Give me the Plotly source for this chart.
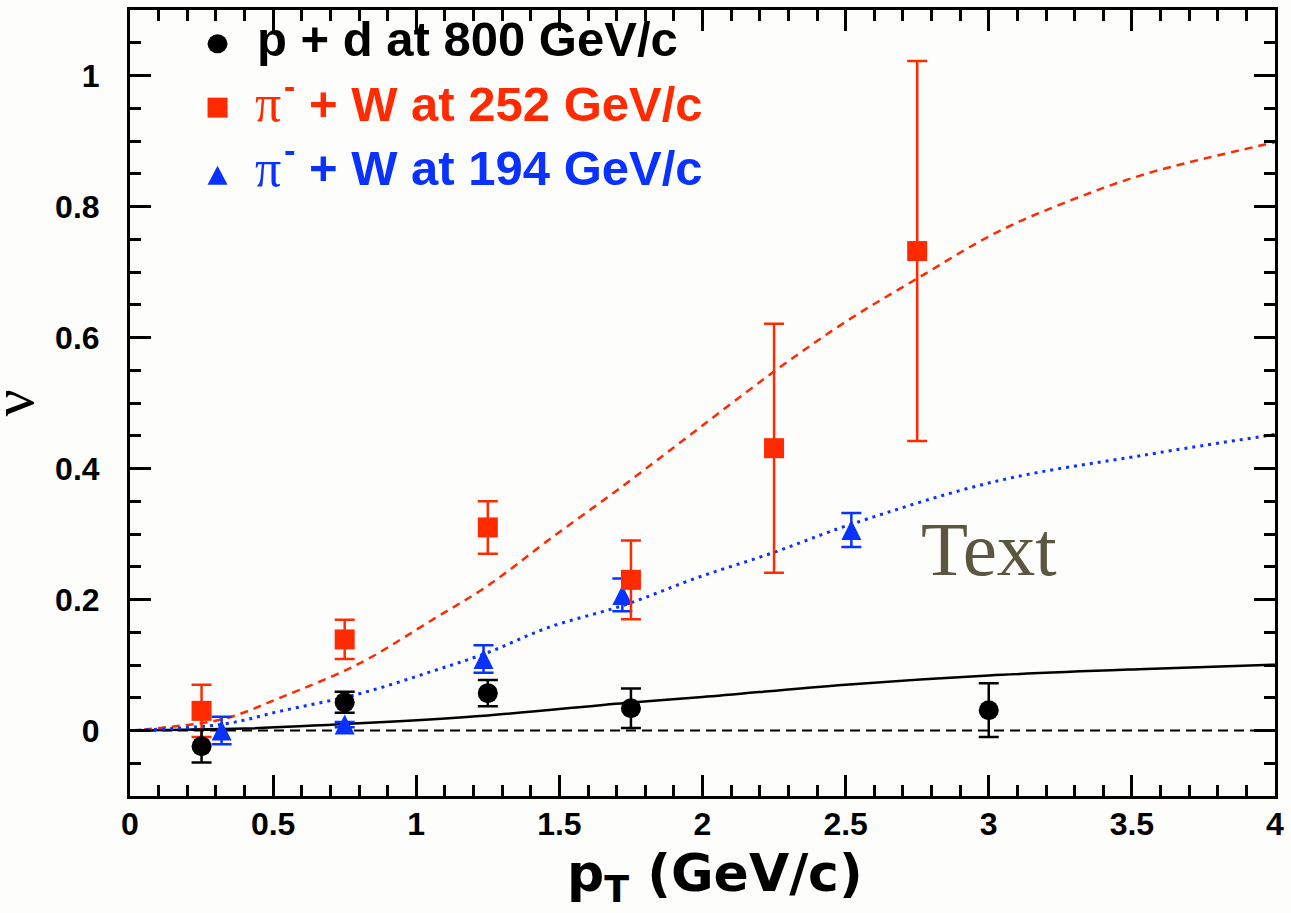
import plotly.graph_objects as go

# ---------------- data ----------------
# p + d at 800 GeV/c
PD_X = [0.25, 0.75, 1.25, 1.75, 3.0]
PD_Y = [-0.024, 0.043, 0.057, 0.034, 0.031]
PD_ERR = [0.025, 0.016, 0.020, 0.030, 0.041]

# pi- + W at 252 GeV/c
PIW252_X = [0.25, 0.75, 1.25, 1.75, 2.25, 2.75]
PIW252_Y = [0.030, 0.139, 0.310, 0.230, 0.431, 0.732]
PIW252_ERR = [0.040, 0.030, 0.040, 0.060, 0.190, 0.290]

# pi- + W at 194 GeV/c
PIW194_X = [0.32, 0.75, 1.235, 1.72, 2.52]
PIW194_Y = [0.000, 0.009, 0.109, 0.207, 0.306]
PIW194_ERR = [0.021, 0.004, 0.021, 0.025, 0.026]

# model curves
CURVE_PD_X = [0.0, 0.4, 0.8, 1.25, 1.73, 2.0, 2.5, 3.0, 3.55, 4.0]
CURVE_PD_Y = [0.0, 0.003, 0.011, 0.023, 0.042, 0.051, 0.070, 0.084, 0.094, 0.1005]

CURVE_252_X = [0.0, 0.13, 0.33, 0.53, 0.8, 1.06, 1.25, 1.46, 1.73, 1.98, 2.25, 2.5, 2.75, 3.03, 3.29, 3.55, 4.0]
CURVE_252_Y = [0.0, 0.005, 0.018, 0.051, 0.102, 0.170, 0.221, 0.290, 0.376, 0.459, 0.548, 0.624, 0.690, 0.761, 0.810, 0.850, 0.898]

CURVE_194_X = [0.0, 0.33, 0.53, 0.8, 1.06, 1.25, 1.46, 1.73, 1.98, 2.25, 2.52, 3.03, 3.55, 4.0]
CURVE_194_Y = [0.0, 0.010, 0.030, 0.056, 0.091, 0.119, 0.157, 0.192, 0.233, 0.272, 0.315, 0.381, 0.421, 0.452]

LEGEND_LABELS = ["p + d at 800 GeV/c", "+ W at 252 GeV/c", "+ W at 194 GeV/c"]

# ---------------- style ----------------
BLACK = "#000000"
RED = "#ff2a00"
BLUE = "#0a32ff"
OLIVE = "#5b5640"
BG = "#fdfdfc"
SANS = "Liberation Sans"
WIDE_SANS = "DejaVu Sans"
SERIF = "Liberation Serif"

W, H = 1291, 913
ML, MR, MT, MB = 130, 10, 7, 117
PW, PH = W - ML - MR, H - MT - MB


def px(p):
    return (p - ML) / PW


def py(q):
    return (H - MB - q) / PH


fig = go.Figure()

# model curves
fig.add_trace(go.Scatter(x=CURVE_PD_X, y=CURVE_PD_Y, mode="lines",
                         line=dict(color=BLACK, width=2.5, shape="spline"), hoverinfo="skip"))
fig.add_trace(go.Scatter(x=CURVE_252_X, y=CURVE_252_Y, mode="lines",
                         line=dict(color=RED, width=2.5, dash="8px,6px", shape="spline"), hoverinfo="skip"))
fig.add_trace(go.Scatter(x=CURVE_194_X, y=CURVE_194_Y, mode="lines",
                         line=dict(color=BLUE, width=3, dash="3px,5px", shape="spline"), hoverinfo="skip"))

# data points
fig.add_trace(go.Scatter(
    x=PIW194_X, y=PIW194_Y, mode="markers",
    marker=dict(symbol="arrow-down", angle=180, size=20, standoff=10, color=BLUE, line=dict(width=0)),
    error_y=dict(type="data", array=PIW194_ERR, color=BLUE, thickness=2.5, width=10)))
fig.add_trace(go.Scatter(
    x=PIW252_X, y=PIW252_Y, mode="markers",
    marker=dict(symbol="square", size=20, color=RED, line=dict(width=0)),
    error_y=dict(type="data", array=PIW252_ERR, color=RED, thickness=2.5, width=10)))
fig.add_trace(go.Scatter(
    x=PD_X, y=PD_Y, mode="markers",
    marker=dict(symbol="circle", size=20, color=BLACK, line=dict(width=0)),
    error_y=dict(type="data", array=PD_ERR, color=BLACK, thickness=2.5, width=10)))

shapes = [
    dict(type="line", xref="paper", x0=0, x1=1, yref="y", y0=0, y1=0,
         line=dict(color=BLACK, width=2, dash="10px,6px"), layer="below"),
    # legend markers
    dict(type="circle", xref="paper", yref="paper", xsizemode="pixel", ysizemode="pixel",
         xanchor=px(218), yanchor=py(41), x0=-10, x1=10, y0=-9.5, y1=9.5,
         fillcolor=BLACK, line=dict(width=0)),
    dict(type="rect", xref="paper", yref="paper", xsizemode="pixel", ysizemode="pixel",
         xanchor=px(218), yanchor=py(105), x0=-10, x1=10, y0=-10, y1=10,
         fillcolor=RED, line=dict(width=0)),
    dict(type="path", xref="paper", yref="paper", xsizemode="pixel", ysizemode="pixel",
         xanchor=px(218), yanchor=py(173), path="M-10,-9.5 L10,-9.5 L0,9.5 Z",
         fillcolor=BLUE, line=dict(width=0)),
]

annotations = [
    # legend texts
    dict(text=LEGEND_LABELS[0], xref="paper", yref="paper", x=px(256), y=py(36),
         xanchor="left", yanchor="middle", showarrow=False,
         font=dict(family=SANS, size=49, color=BLACK, weight="bold")),
    dict(text="π", xref="paper", yref="paper", x=px(254), y=py(101),
         xanchor="left", yanchor="middle", showarrow=False,
         font=dict(family=SERIF, size=52, color=RED)),
    dict(text="-", xref="paper", yref="paper", x=px(283), y=py(83),
         xanchor="left", yanchor="middle", showarrow=False,
         font=dict(family=SANS, size=34, color=RED, weight="bold")),
    dict(text=LEGEND_LABELS[1], xref="paper", yref="paper", x=px(308), y=py(101),
         xanchor="left", yanchor="middle", showarrow=False,
         font=dict(family=SANS, size=49, color=RED, weight="bold")),
    dict(text="π", xref="paper", yref="paper", x=px(254), y=py(166),
         xanchor="left", yanchor="middle", showarrow=False,
         font=dict(family=SERIF, size=52, color=BLUE)),
    dict(text="-", xref="paper", yref="paper", x=px(283), y=py(148),
         xanchor="left", yanchor="middle", showarrow=False,
         font=dict(family=SANS, size=34, color=BLUE, weight="bold")),
    dict(text=LEGEND_LABELS[2], xref="paper", yref="paper", x=px(308), y=py(166),
         xanchor="left", yanchor="middle", showarrow=False,
         font=dict(family=SANS, size=49, color=BLUE, weight="bold")),
    # free text
    dict(text="Text", xref="paper", yref="paper", x=px(923), y=py(548),
         xanchor="left", yanchor="middle", showarrow=False,
         font=dict(family=SERIF, size=77, color=OLIVE)),
    # axis titles
    dict(text="p<sub>T</sub> (GeV/c)", xref="paper", yref="paper", x=px(718), y=py(877),
         xanchor="center", yanchor="middle", showarrow=False,
         font=dict(family=WIDE_SANS, size=52, color=BLACK, weight="bold")),
    dict(text="ν", xref="paper", yref="paper", x=px(12), y=0.5, textangle=-90,
         xanchor="center", yanchor="middle", showarrow=False,
         font=dict(family=SERIF, size=60, color=BLACK)),
]

axis_common = dict(
    ticks="inside", ticklen=21, tickwidth=2.5, tickcolor=BLACK,
    showline=True, linewidth=3, linecolor=BLACK, mirror="ticks",
    showgrid=False, zeroline=False,
    tickfont=dict(family=SANS, size=32, color=BLACK, weight="bold"),
)

fig.update_xaxes(range=[0, 4], tick0=0, dtick=0.5, ticklabelstandoff=-2,
                 minor=dict(dtick=0.1, ticks="inside", ticklen=11, tickwidth=2.5,
                            tickcolor=BLACK, showgrid=False),
                 **axis_common)
fig.update_yaxes(range=[-0.1, 1.1], tick0=0, dtick=0.2, ticklabelstandoff=21,
                 minor=dict(dtick=0.05, ticks="inside", ticklen=11, tickwidth=2.5,
                            tickcolor=BLACK, showgrid=False),
                 **axis_common)

fig.update_layout(
    width=W, height=H, autosize=False,
    margin=dict(l=ML, r=MR, t=MT, b=MB, pad=0),
    paper_bgcolor=BG, plot_bgcolor=BG,
    showlegend=False,
    shapes=shapes, annotations=annotations,
)

fig.write_html("out.html", config={"displayModeBar": False},
               post_script="document.body.style.margin='0';document.body.style.overflow='hidden';")
